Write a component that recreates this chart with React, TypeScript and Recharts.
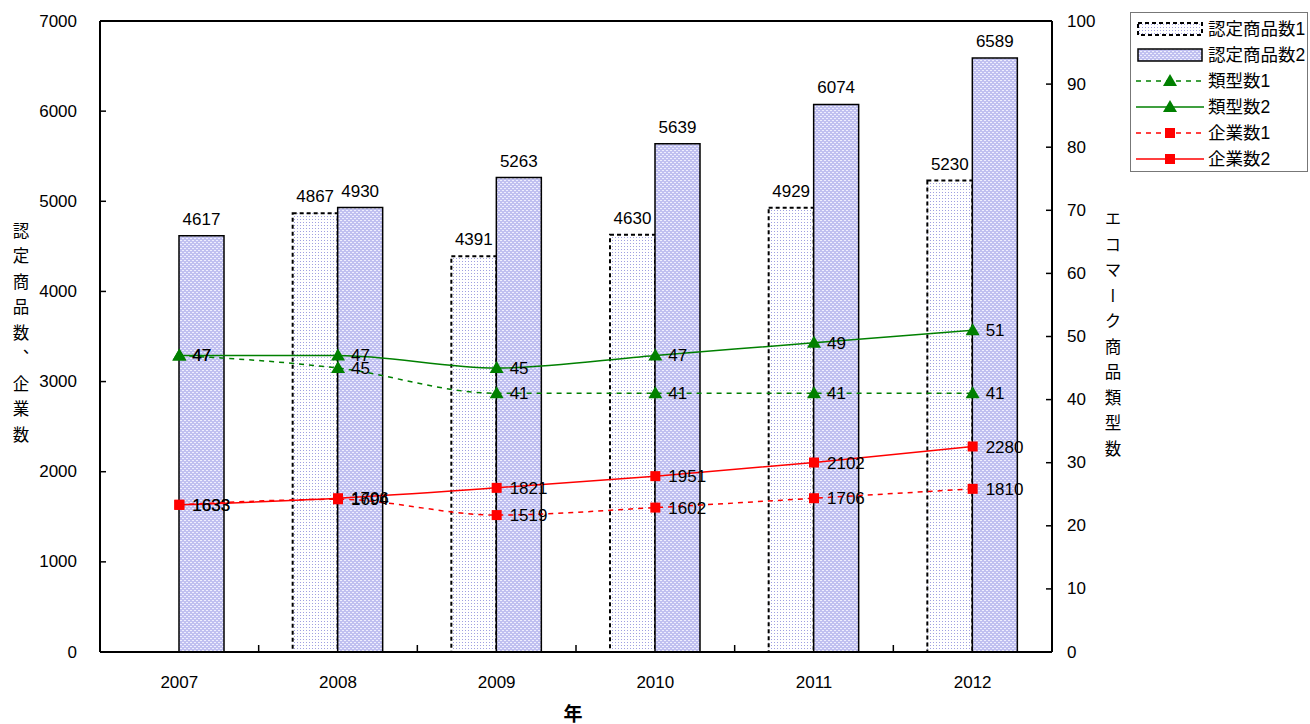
import React from 'react';
import {
  ComposedChart,
  Bar,
  Line,
  XAxis,
  YAxis,
  Legend,
  LabelList,
  Label,
  ReferenceLine
} from 'recharts';

const years = ['2007', '2008', '2009', '2010', '2011', '2012'];
const products1 = [null, 4867, 4391, 4630, 4929, 5230];
const products2 = [4617, 4930, 5263, 5639, 6074, 6589];
const types1 = [47, 45, 41, 41, 41, 41];
const types2 = [47, 47, 45, 47, 49, 51];
const companies1 = [1633, 1694, 1519, 1602, 1706, 1810];
const companies2 = [1633, 1706, 1821, 1951, 2102, 2280];
const leftTicks = [0, 1000, 2000, 3000, 4000, 5000, 6000, 7000];
const rightTicks = [0, 10, 20, 30, 40, 50, 60, 70, 80, 90, 100];
const seriesNames = ['認定商品数1', '認定商品数2', '類型数1', '類型数2', '企業数1', '企業数2'];

const data = years.map((year, i) => ({
  year,
  p1: products1[i],
  p2: products2[i],
  t1: types1[i],
  t2: types2[i],
  c1: companies1[i],
  c2: companies2[i]
}));

const FONT = "'Liberation Sans', 'Noto Sans CJK JP', sans-serif";
const PLOT_LEFT = 100;
const PLOT_RIGHT = 1052;
const BAND = (PLOT_RIGHT - PLOT_LEFT) / years.length;
const GREEN = '#008000';
const RED = '#ff0000';

const XTick = (props: any) => {
  const { x, y, payload } = props;
  return (
    <g>
      <text x={x} y={y + 30} textAnchor="middle" dominantBaseline="central" fontSize={17} fontFamily={FONT} fill="#000">
        {payload.value}
      </text>
      <line x1={x - BAND / 2} x2={x - BAND / 2} y1={y} y2={y - 7} stroke="#000" strokeWidth={1.5} />
    </g>
  );
};

const LeftTick = (props: any) => {
  const { x, y, payload } = props;
  return (
    <g>
      <text x={x - 23} y={y} textAnchor="end" dominantBaseline="central" fontSize={17} fontFamily={FONT} fill="#000">
        {payload.value}
      </text>
      <line x1={x} x2={x + 6} y1={y} y2={y} stroke="#000" strokeWidth={1.5} />
    </g>
  );
};

const RightTick = (props: any) => {
  const { x, y, payload } = props;
  return (
    <g>
      <text x={x + 15} y={y} textAnchor="start" dominantBaseline="central" fontSize={17} fontFamily={FONT} fill="#000">
        {payload.value}
      </text>
      <line x1={x} x2={x - 6} y1={y} y2={y} stroke="#000" strokeWidth={1.5} />
    </g>
  );
};

const Triangle = (props: any) => {
  const { cx, cy } = props;
  if (cx == null || cy == null) return null;
  return <path d={`M${cx},${cy - 7} L${cx + 7},${cy + 5} L${cx - 7},${cy + 5} Z`} fill={GREEN} />;
};

const Square = (props: any) => {
  const { cx, cy } = props;
  if (cx == null || cy == null) return null;
  return <rect x={cx - 5} y={cy - 5} width={10} height={10} fill={RED} />;
};

const VerticalTitle = ({ x, y, text }: { x: number; y: number; text: string }) => (
  <text
    x={x}
    y={y}
    textAnchor="middle"
    fontSize={16.5}
    fontFamily="'Noto Sans CJK JP', sans-serif"
    fill="#000"
    style={{ writingMode: 'vertical-rl', letterSpacing: '9px' }}
  >
    {text}
  </text>
);

const Swatch = ({ name }: { name: string }) => {
  if (name === '認定商品数1') {
    return (
      <svg width={68} height={16}>
        <rect x={2} y={2} width={64} height={12} fill="url(#pat1)" stroke="#000" strokeWidth={2} strokeDasharray="4 3" />
      </svg>
    );
  }
  if (name === '認定商品数2') {
    return (
      <svg width={68} height={16}>
        <rect x={2} y={2} width={64} height={12} fill="url(#pat2)" stroke="#000" strokeWidth={1.5} />
      </svg>
    );
  }
  const isGreen = name.startsWith('類型');
  const dashed = name.endsWith('1');
  const color = isGreen ? GREEN : RED;
  return (
    <svg width={68} height={16}>
      <line x1={0} x2={68} y1={8} y2={8} stroke={color} strokeWidth={1.5} strokeDasharray={dashed ? '5 5' : undefined} />
      {isGreen ? (
        <path d="M34,1 L41,13 L27,13 Z" fill={GREEN} />
      ) : (
        <rect x={29} y={3} width={10} height={10} fill={RED} />
      )}
    </svg>
  );
};

const LegendBox = () => (
  <div
    style={{
      width: 178,
      height: 160,
      border: '1px solid #777',
      background: '#fff',
      boxSizing: 'border-box',
      paddingTop: 3
    }}
  >
    {seriesNames.map((name) => (
      <div key={name} style={{ display: 'flex', alignItems: 'center', height: 26, paddingLeft: 5 }}>
        <Swatch name={name} />
        <span style={{ marginLeft: 4, fontSize: 17.5, fontFamily: FONT, color: '#000', lineHeight: '26px' }}>{name}</span>
      </div>
    ))}
  </div>
);

const lineLabel = { position: 'right' as const, offset: 13, fontSize: 17, fontFamily: FONT, fill: '#000' };

export default function App() {
  return (
    <div style={{ position: 'absolute', left: 0, top: 0, width: 1310, height: 724, background: '#fff' }}>
      <ComposedChart
        width={1310}
        height={724}
        data={data}
        margin={{ top: 21, right: 0, bottom: 0, left: 0 }}
        barGap={0}
      >
        <defs>
          <pattern id="pat1" width="3" height="3" patternUnits="userSpaceOnUse">
            <rect width="3" height="3" fill="#ffffff" />
            <rect width="1" height="1" fill="#a0a0e0" />
          </pattern>
          <pattern id="pat2" width="4" height="4" patternUnits="userSpaceOnUse">
            <rect width="4" height="4" fill="#c0c0f0" />
            <rect x="0" y="0" width="2" height="1" fill="#eeeefe" />
            <rect x="2" y="2" width="2" height="1" fill="#eeeefe" />
          </pattern>
        </defs>
        <XAxis
          dataKey="year"
          height={72}
          tickLine={false}
          tickSize={0}
          tickMargin={0}
          tick={<XTick />}
          axisLine={{ stroke: '#000', strokeWidth: 2 }}
        >
          <Label
            content={() => (
              <text x={573} y={712} textAnchor="middle" dominantBaseline="central" fontSize={19} fontWeight="bold" fontFamily="'Noto Sans CJK JP', sans-serif" fill="#000">
                年
              </text>
            )}
          />
        </XAxis>
        <YAxis
          yAxisId="left"
          width={100}
          domain={[0, 7000]}
          ticks={leftTicks}
          tickLine={false}
          tickSize={0}
          tickMargin={0}
          tick={<LeftTick />}
          axisLine={{ stroke: '#000', strokeWidth: 2 }}
          interval={0}
        >
          <Label content={() => <VerticalTitle x={21} y={337} text="認定商品数、企業数" />} />
        </YAxis>
        <YAxis
          yAxisId="right"
          orientation="right"
          width={258}
          domain={[0, 100]}
          ticks={rightTicks}
          tickLine={false}
          tickSize={0}
          tickMargin={0}
          tick={<RightTick />}
          axisLine={{ stroke: '#000', strokeWidth: 2 }}
          interval={0}
        >
          <Label content={() => <VerticalTitle x={1113} y={338} text="エコマーク商品類型数" />} />
        </YAxis>
        <ReferenceLine yAxisId="left" y={7000} stroke="#000" strokeWidth={2} />
        <Legend
          layout="vertical"
          align="center"
          verticalAlign="middle"
          wrapperStyle={{ left: 1130, top: 12, width: 178, height: 160 }}
          content={() => <LegendBox />}
        />
        <Bar
          yAxisId="left"
          dataKey="p1"
          name="認定商品数1"
          barSize={45}
          fill="url(#pat1)"
          stroke="#000"
          strokeWidth={2}
          strokeDasharray="4 3"
          isAnimationActive={false}
        >
          <LabelList dataKey="p1" position="top" offset={11} fontSize={17} fontFamily={FONT} fill="#000" />
        </Bar>
        <Bar
          yAxisId="left"
          dataKey="p2"
          name="認定商品数2"
          barSize={45}
          fill="url(#pat2)"
          stroke="#000"
          strokeWidth={1.5}
          isAnimationActive={false}
        >
          <LabelList dataKey="p2" position="top" offset={11} fontSize={17} fontFamily={FONT} fill="#000" />
        </Bar>
        <Line
          yAxisId="right"
          type="monotone"
          dataKey="t1"
          name="類型数1"
          stroke={GREEN}
          strokeWidth={1.5}
          strokeDasharray="5 5"
          dot={<Triangle />}
          activeDot={false}
          isAnimationActive={false}
        >
          <LabelList dataKey="t1" {...lineLabel} />
        </Line>
        <Line
          yAxisId="right"
          type="monotone"
          dataKey="t2"
          name="類型数2"
          stroke={GREEN}
          strokeWidth={1.5}
          dot={<Triangle />}
          activeDot={false}
          isAnimationActive={false}
        >
          <LabelList dataKey="t2" {...lineLabel} />
        </Line>
        <Line
          yAxisId="left"
          type="monotone"
          dataKey="c1"
          name="企業数1"
          stroke={RED}
          strokeWidth={1.5}
          strokeDasharray="5 5"
          dot={<Square />}
          activeDot={false}
          isAnimationActive={false}
        >
          <LabelList dataKey="c1" {...lineLabel} />
        </Line>
        <Line
          yAxisId="left"
          type="monotone"
          dataKey="c2"
          name="企業数2"
          stroke={RED}
          strokeWidth={1.5}
          dot={<Square />}
          activeDot={false}
          isAnimationActive={false}
        >
          <LabelList dataKey="c2" {...lineLabel} />
        </Line>
      </ComposedChart>
    </div>
  );
}
